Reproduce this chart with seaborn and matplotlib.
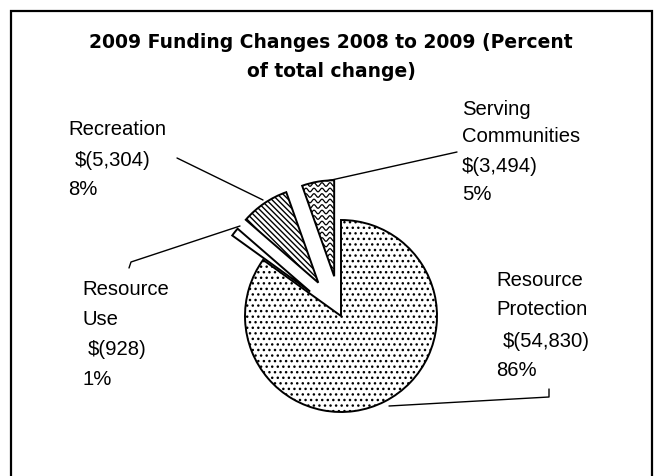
import numpy as np
import matplotlib
matplotlib.use("Agg")
import matplotlib.pyplot as plt
from matplotlib.patches import Rectangle
import seaborn as sns

# ---- data ----
categories = ["Serving Communities", "Recreation", "Resource Use", "Resource Protection"]
amounts = [3494, 5304, 928, 54830]
amount_labels = ["$(3,494)", "$(5,304)", "$(928)", "$(54,830)"]
pct_labels = ["5%", "8%", "1%", "86%"]
title_lines = ["2009 Funding Changes 2008 to 2009 (Percent", "of total change)"]

sns.set_theme(style="white")
plt.rcParams["font.family"] = ["Liberation Sans", "DejaVu Sans"]
plt.rcParams["hatch.linewidth"] = 1.0
plt.rcParams["hatch.color"] = "black"

W, H = 657, 476
fig = plt.figure(figsize=(W / 100, H / 100), dpi=100)
fig.patch.set_facecolor("white")
ax = fig.add_axes([0, 0, 1, 1])


def Y(py):
    return H - py


center = (341, Y(316))
radius = 96
explode_frac = [0.42, 0.42, 0.41, 0.0]
explode = [f * radius for f in explode_frac]  # pie explode is in data units
wedges, _ = ax.pie(amounts, explode=explode, startangle=90, counterclock=True,
                   center=center, radius=radius,
                   colors=["white"] * 4,
                   wedgeprops=dict(edgecolor="black", linewidth=1.4))
hatches = [None, "\\\\\\\\\\\\", None, "..."]
for w, h in zip(wedges, hatches):
    if h:
        w.set_hatch(h)

# wavy pattern inside Serving Communities wedge
sc = wedges[0]
xs = np.linspace(0, W, 2000)
for y0 in np.arange(0, H, 5.5):
    ln, = ax.plot(xs, y0 + 1.8 * np.sin(2 * np.pi * xs / 8.0), color="black", lw=0.9)
    ln.set_clip_path(sc)

ax.set_xlim(0, W)
ax.set_ylim(0, H)
ax.set_aspect("equal")
ax.axis("off")

# border frame
ax.add_patch(Rectangle((11, -20), 641, Y(11) + 20, fill=False, edgecolor="black",
                       linewidth=1.6, clip_on=False))

# title
for txt, cy in zip(title_lines, [48, 77]):
    ax.text(331, Y(cy), txt, ha="center", va="baseline", fontsize=13.5,
            fontweight="heavy", family=["DejaVu Sans"], color="black")

# labels (left x, baseline y for each line)
label_layout = {
    "Recreation": [(68, 135), (75, 166), (68, 195)],
    "Serving Communities": [(462, 115), (462, 142), (462, 172), (462, 200)],
    "Resource Use": [(82, 295), (82, 325), (88, 355), (82, 385)],
    "Resource Protection": [(496, 286), (496, 315), (503, 347), (496, 376)],
}
for cat, amt, pct in zip(categories, amount_labels, pct_labels):
    lines = cat.split(" ") + [amt.replace("$", "\\$"), pct]
    for txt, (x, y) in zip(lines, label_layout[cat]):
        ax.text(x, Y(y), txt, ha="left", va="baseline", fontsize=14.6, color="black")

# leader lines
leaders = [
    [(177, 158), (263, 200)],
    [(457, 152), (327, 181)],
    [(129, 268), (131, 262), (240, 226)],
    [(389, 406), (549, 397), (549, 389)],
]
for pts in leaders:
    px, py = zip(*pts)
    ax.plot(px, [Y(v) for v in py], color="black", lw=1.0)

fig.savefig("out.png", dpi=100, facecolor="white")
